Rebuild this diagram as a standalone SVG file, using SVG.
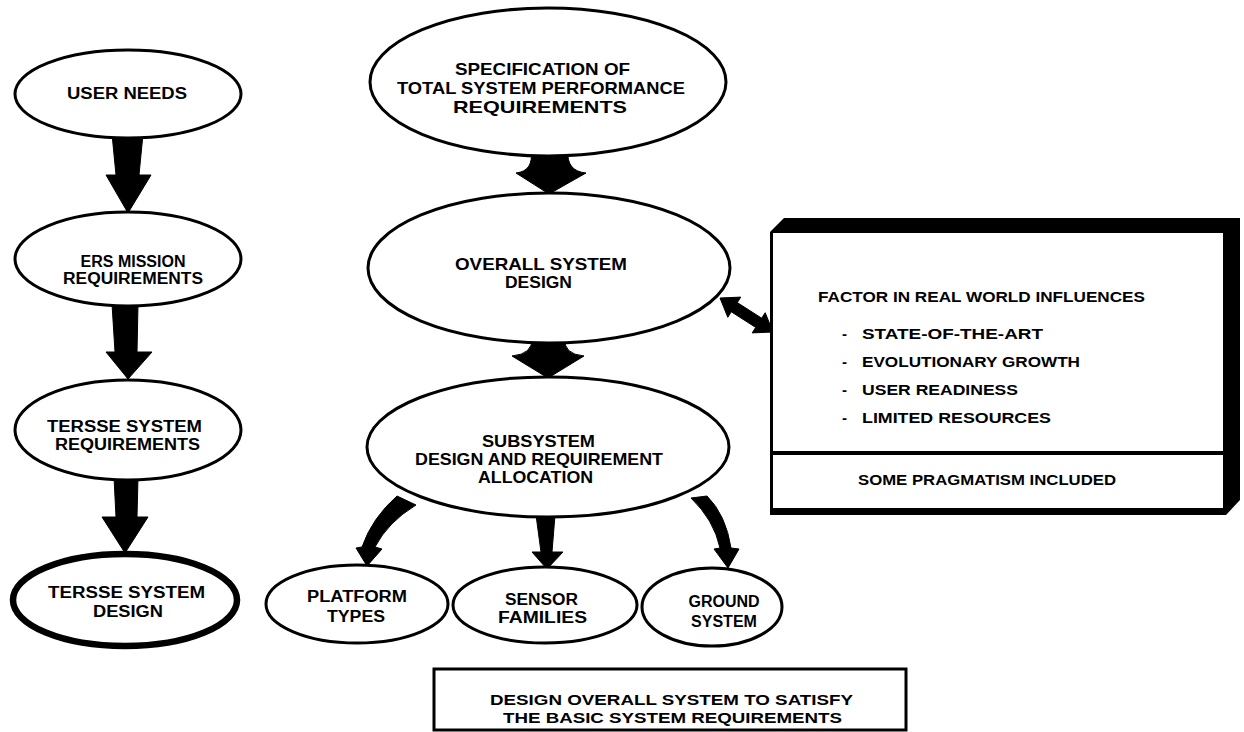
<svg xmlns="http://www.w3.org/2000/svg" width="1244" height="732" viewBox="0 0 1244 732">
  <defs>
    <style>
      .bg { fill: #ffffff; }
      .node { fill: #ffffff; stroke: #000000; stroke-width: 3; }
      .node-heavy { fill: #ffffff; stroke: #000000; stroke-width: 6.5; }
      .arrow { fill: #000000; stroke: #000000; stroke-width: 1; stroke-linejoin: round; }
      .label { font-family: "Liberation Sans", Arial, "DejaVu Sans", sans-serif; font-weight: bold; fill: #000000; }
      .mid { text-anchor: middle; }
      .s16 { font-size: 16px; }
      .s17 { font-size: 17px; }
      .s15 { font-size: 15px; }
    </style>
  </defs>

  <rect class="bg" x="0" y="0" width="1244" height="732"/>

  <!-- connectors -->
  <g id="connectors">
    <!-- left column -->
    <path class="arrow" d="M112 134 L143 134 L139 175 L151 175 L128 213 L106 175 L116 175 Z"/>
    <path class="arrow" d="M112 304 L138 304 L137 352 L152 352 L128 379 L106 352 L115 352 Z"/>
    <path class="arrow" d="M114 477 L138 477 L137 517 L148 517 L125 553 L102 517 L116 517 Z"/>
    <!-- centre column -->
    <path class="arrow" d="M531 150 L568 150 Q566 171 586 173 L549 194 L516 173 Q534 171 531 150 Z"/>
    <path class="arrow" d="M532 338 L565 338 Q563 354 584 356 L548 378 L512 356 Q533 354 532 338 Z"/>
    <!-- subsystem fan-out -->
    <path class="arrow" d="M397 496 Q372 518 362 547 L356 548 L367 566 L382 549 L375 547 Q388 522 416 505 Z"/>
    <path class="arrow" d="M536 515 L555 515 L552 552 L563 552 L547 569 L532 552 L541 552 Z"/>
    <path class="arrow" d="M691 498 Q714 520 720 548 L714 549 L728 568 L739 549 L731 548 Q726 515 707 496 Z"/>
    <!-- two-way link to influences box -->
    <path class="arrow" d="M720 298 L740.8 297.1 L737.3 302.6 L761.7 318.2 L765.2 312.7 L773 332 L752.2 332.9 L755.7 327.4 L731.3 311.8 L727.8 317.3 Z"/>
  </g>

  <!-- left column -->
  <g id="user-needs">
    <ellipse class="node" cx="128" cy="94" rx="113" ry="44"/>
    <text class="label s16" x="67" y="99" textLength="120" lengthAdjust="spacingAndGlyphs">USER NEEDS</text>
  </g>
  <g id="ers-mission">
    <ellipse class="node" cx="128" cy="259" rx="113" ry="47"/>
    <text class="label s16 mid" x="133" y="267">ERS MISSION</text>
    <text class="label s16" x="63" y="284" textLength="140" lengthAdjust="spacingAndGlyphs">REQUIREMENTS</text>
  </g>
  <g id="tersse-requirements">
    <ellipse class="node" cx="128" cy="430" rx="113" ry="50"/>
    <text class="label s16" x="47" y="432" textLength="155" lengthAdjust="spacingAndGlyphs">TERSSE SYSTEM</text>
    <text class="label s16" x="55" y="450" textLength="145" lengthAdjust="spacingAndGlyphs">REQUIREMENTS</text>
  </g>
  <g id="tersse-design">
    <ellipse class="node-heavy" cx="125" cy="600" rx="112" ry="46"/>
    <text class="label s16" x="48" y="598" textLength="157" lengthAdjust="spacingAndGlyphs">TERSSE SYSTEM</text>
    <text class="label s16" x="93" y="617" textLength="70" lengthAdjust="spacingAndGlyphs">DESIGN</text>
  </g>

  <!-- centre column -->
  <g id="specification">
    <ellipse class="node" cx="548" cy="82" rx="178" ry="74"/>
    <text class="label s17" x="455" y="75" textLength="175" lengthAdjust="spacingAndGlyphs">SPECIFICATION OF</text>
    <text class="label s17" x="397" y="94" textLength="288" lengthAdjust="spacingAndGlyphs">TOTAL SYSTEM PERFORMANCE</text>
    <text class="label s17" x="453" y="113" textLength="174" lengthAdjust="spacingAndGlyphs">REQUIREMENTS</text>
  </g>
  <g id="overall-design">
    <ellipse class="node" cx="549" cy="268" rx="181" ry="75"/>
    <text class="label s17" x="455" y="270" textLength="172" lengthAdjust="spacingAndGlyphs">OVERALL SYSTEM</text>
    <text class="label s17" x="505" y="288" textLength="67" lengthAdjust="spacingAndGlyphs">DESIGN</text>
  </g>
  <g id="subsystem">
    <ellipse class="node" cx="548" cy="447" rx="181" ry="70"/>
    <text class="label s17" x="482" y="447" textLength="113" lengthAdjust="spacingAndGlyphs">SUBSYSTEM</text>
    <text class="label s17" x="415" y="465" textLength="248" lengthAdjust="spacingAndGlyphs">DESIGN AND REQUIREMENT</text>
    <text class="label s17" x="478" y="483" textLength="115" lengthAdjust="spacingAndGlyphs">ALLOCATION</text>
  </g>
  <g id="platform-types">
    <ellipse class="node" cx="357" cy="604" rx="91" ry="39"/>
    <text class="label s16" x="307" y="602" textLength="100" lengthAdjust="spacingAndGlyphs">PLATFORM</text>
    <text class="label s16" x="327" y="622" textLength="58" lengthAdjust="spacingAndGlyphs">TYPES</text>
  </g>
  <g id="sensor-families">
    <ellipse class="node" cx="545" cy="605" rx="92" ry="38"/>
    <text class="label s16" x="505" y="605" textLength="73" lengthAdjust="spacingAndGlyphs">SENSOR</text>
    <text class="label s16" x="498" y="623" textLength="89" lengthAdjust="spacingAndGlyphs">FAMILIES</text>
  </g>
  <g id="ground-system">
    <ellipse class="node" cx="712" cy="607" rx="70" ry="39"/>
    <text class="label s16 mid" x="724" y="607">GROUND</text>
    <text class="label s16 mid" x="724" y="627">SYSTEM</text>
  </g>

  <!-- real world influences box -->
  <g id="influences">
    <path d="M770 232 L784 218 L1240 218 L1240 500 L1226 515 L770 515 Z" fill="#000000"/>
    <rect x="773" y="233" width="450" height="218" fill="#ffffff"/>
    <rect x="773" y="455" width="450" height="53" fill="#ffffff"/>
    <text class="label s15" x="818" y="302" textLength="327" lengthAdjust="spacingAndGlyphs">FACTOR IN REAL WORLD INFLUENCES</text>
    <text class="label s15" x="842" y="339">-</text>
    <text class="label s15" x="862" y="339" textLength="181" lengthAdjust="spacingAndGlyphs">STATE-OF-THE-ART</text>
    <text class="label s15" x="842" y="367">-</text>
    <text class="label s15" x="862" y="367" textLength="218" lengthAdjust="spacingAndGlyphs">EVOLUTIONARY GROWTH</text>
    <text class="label s15" x="842" y="395">-</text>
    <text class="label s15" x="862" y="395" textLength="156" lengthAdjust="spacingAndGlyphs">USER READINESS</text>
    <text class="label s15" x="842" y="423">-</text>
    <text class="label s15" x="862" y="423" textLength="189" lengthAdjust="spacingAndGlyphs">LIMITED RESOURCES</text>
    <text class="label s15" x="858" y="485" textLength="258" lengthAdjust="spacingAndGlyphs">SOME PRAGMATISM INCLUDED</text>
  </g>

  <!-- caption box -->
  <g id="caption">
    <rect x="434" y="669" width="472" height="61" fill="#ffffff" stroke="#000000" stroke-width="3"/>
    <text class="label s15" x="490" y="705" textLength="363" lengthAdjust="spacingAndGlyphs">DESIGN OVERALL SYSTEM TO SATISFY</text>
    <text class="label s15" x="503" y="723" textLength="339" lengthAdjust="spacingAndGlyphs">THE BASIC SYSTEM REQUIREMENTS</text>
  </g>
</svg>
